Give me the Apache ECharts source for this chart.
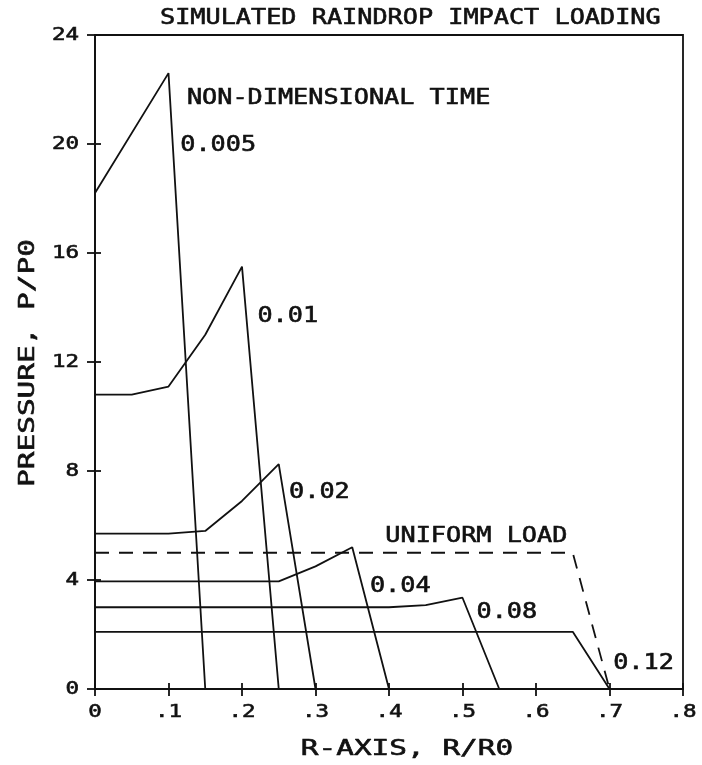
<!DOCTYPE html>
<html>
<head>
<meta charset="utf-8">
<style>
  html, body { margin: 0; padding: 0; background: #fff; }
  #chart { width: 702px; height: 765px; }
</style>
<script src="https://cdn.jsdelivr.net/npm/echarts@6/dist/echarts.min.js"></script>
</head>
<body>
<div id="chart"></div>
<script>
// Radial pressure profiles P/P0 against R/R0 at several non-dimensional times
const r005 = [0, 0.1, 0.15];
const p005 = [18.2, 22.6, 0];

const r01 = [0, 0.05, 0.1, 0.15, 0.2, 0.25];
const p01 = [10.8, 10.8, 11.1, 13.0, 15.5, 0];

const r02 = [0, 0.1, 0.15, 0.2, 0.25, 0.3];
const p02 = [5.7, 5.7, 5.8, 6.9, 8.25, 0];

const r04 = [0, 0.25, 0.3, 0.35, 0.4];
const p04 = [3.95, 3.95, 4.5, 5.2, 0];

const r08 = [0, 0.4, 0.45, 0.5, 0.55];
const p08 = [3.0, 3.0, 3.08, 3.35, 0];

const r12 = [0, 0.65, 0.7];
const p12 = [2.1, 2.1, 0];

const rUniform = [0, 0.65, 0.7];
const pUniform = [5.0, 5.0, 0];

const xTickLabels = ['0', '.1', '.2', '.3', '.4', '.5', '.6', '.7', '.8'];
const yTickLabels = ['0', '4', '8', '12', '16', '20', '24'];

const titleText = 'SIMULATED RAINDROP IMPACT LOADING';
const xName = 'R-AXIS, R/R0';
const yName = 'PRESSURE, P/P0';

// Curve captions, anchored in data space (left edge, vertical middle)
const captions = [
  { text: 'NON-DIMENSIONAL TIME', at: [0.125, 21.65] },
  { text: '0.005', at: [0.116, 19.95] },
  { text: '0.01',  at: [0.221, 13.65] },
  { text: '0.02',  at: [0.264, 7.2] },
  { text: 'UNIFORM LOAD', at: [0.395, 5.6] },
  { text: '0.04',  at: [0.374, 3.75] },
  { text: '0.08',  at: [0.519, 2.8] },
  { text: '0.12',  at: [0.705, 0.92] }
];

const FONT = '"DejaVu Sans Mono", "Liberation Mono", monospace';
const INK = '#111';
const LW = 1.8;

function pairs(xs, ys) { return xs.map((x, i) => [x, ys[i]]); }

function curve(xs, ys, dashed) {
  return {
    type: 'line',
    data: pairs(xs, ys),
    symbol: 'none',
    silent: true,
    animation: false,
    lineStyle: {
      color: INK,
      width: LW,
      type: dashed ? [14, 10] : 'solid'
    }
  };
}

const chart = echarts.init(document.getElementById('chart'), null, { renderer: 'canvas' });

const gridBox = { left: 95, right: 19, top: 35, bottom: 76 };

const tickStyle = { color: INK, width: LW };

const option = {
  backgroundColor: '#fff',
  animation: false,
  grid: Object.assign({ show: true, borderColor: INK, borderWidth: LW, backgroundColor: 'transparent' }, gridBox),
  xAxis: [
    {
      type: 'value', min: 0, max: 0.8, interval: 0.1,
      axisLine: { lineStyle: tickStyle },
      axisTick: { show: true, inside: false, length: 7, lineStyle: tickStyle },
      splitLine: { show: false },
      axisLabel: { show: false }
    },
    {
      type: 'value', min: 0, max: 0.8, interval: 0.1, position: 'bottom',
      axisLine: { show: false },
      axisTick: { show: true, inside: true, length: 6, lineStyle: tickStyle },
      splitLine: { show: false },
      axisLabel: { show: false }
    }
  ],
  yAxis: [
    {
      type: 'value', min: 0, max: 24, interval: 4,
      axisLine: { show: true, lineStyle: tickStyle },
      axisTick: { show: true, inside: false, length: 8, lineStyle: tickStyle },
      splitLine: { show: false },
      axisLabel: { show: false }
    },
    {
      type: 'value', min: 0, max: 24, interval: 4, position: 'left',
      axisLine: { show: false },
      axisTick: { show: true, inside: true, length: 6, lineStyle: tickStyle },
      splitLine: { show: false },
      axisLabel: { show: false }
    }
  ],
  series: [
    curve(r005, p005),
    curve(r01, p01),
    curve(r02, p02),
    curve(r04, p04),
    curve(r08, p08),
    curve(r12, p12),
    curve(rUniform, pUniform, true)
  ]
};

chart.setOption(option);

// Plotter-style lettering: monospace text stretched horizontally
function plotterText(text, x, y, opts) {
  opts = opts || {};
  const align = opts.align || 'left';
  return {
    type: 'text',
    x: x, y: y,
    rotation: opts.rotation || 0,
    scaleX: opts.scaleX || 1.2,
    scaleY: 1,
    silent: true,
    z: 100,
    style: {
      text: text,
      x: 0, y: 0,
      fill: INK,
      stroke: INK,
      lineWidth: 0.6,
      font: (opts.size || 21) + 'px ' + FONT,
      textAlign: align,
      textVerticalAlign: 'middle',
      align: align,
      verticalAlign: 'middle'
    }
  };
}

const graphics = [];
graphics.push(plotterText(titleText, 160, 19, { scaleX: 1.2 }));
graphics.push(plotterText(xName, 407, 750, { align: 'center', scaleX: 1.4 }));
graphics.push(plotterText(yName, 29, 363, { align: 'center', scaleX: 1.4, rotation: Math.PI / 2 }));

// Tick labels placed at the axis values they name
xTickLabels.forEach(lbl => {
  const p = chart.convertToPixel({ gridIndex: 0 }, [parseFloat(lbl), 0]);
  graphics.push(plotterText(lbl, p[0], p[1] + 23, { align: 'center', size: 18, scaleX: 1.25 }));
});
yTickLabels.forEach(lbl => {
  const p = chart.convertToPixel({ gridIndex: 0 }, [0, parseFloat(lbl)]);
  graphics.push(plotterText(lbl, p[0] - 16, p[1], { align: 'right', size: 18, scaleX: 1.25 }));
});

captions.forEach(c => {
  const p = chart.convertToPixel({ gridIndex: 0 }, c.at);
  graphics.push(plotterText(c.text, p[0], p[1], { scaleX: 1.2 }));
});

chart.setOption({ graphic: graphics });
</script>
</body>
</html>
